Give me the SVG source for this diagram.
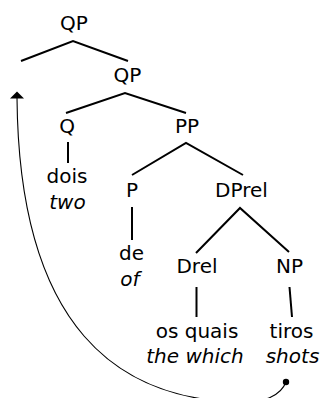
<svg xmlns="http://www.w3.org/2000/svg" width="322" height="398" viewBox="0 0 322 398">
<style>
text{font-family:"DejaVu Sans","Liberation Sans",sans-serif;font-size:20px;fill:#000;text-anchor:middle}
.it{font-style:italic}
.e{stroke:#000;stroke-width:2;fill:none;stroke-linecap:butt}
.mv{stroke:#000;stroke-width:1.1;fill:none}
</style>
<g id="connectors">
<path class="e" d="M21,61 L73,41 L128,61"/>
<path class="e" d="M66,113 L125,93 L186,113"/>
<path class="e" d="M68,142 L68,163"/>
<path class="e" d="M132,175 L186,143 L243,175"/>
<path class="e" d="M132,207 L132,240"/>
<path class="e" d="M196,253 L240,208 L289,252"/>
<path class="e" d="M196.5,287 L196.5,317"/>
<path class="e" d="M289.5,287 L292,317"/>
<path class="mv" d="M286,382 C281,395 265,403 240,402 C120,400 19,330 17,98"/>
<path d="M17,91.5 L10,98.5 L24,98.5 Z" fill="#000"/>
<circle cx="286" cy="382" r="3.2" fill="#000"/>
</g>
<g id="qp1"><text x="74" y="30">QP</text></g>
<g id="qp2"><text x="127.5" y="82">QP</text></g>
<g id="q"><text x="67" y="133">Q</text></g>
<g id="pp"><text x="187" y="133">PP</text></g>
<g id="dois"><text x="67" y="183">dois</text><text class="it" x="67.5" y="209">two</text></g>
<g id="p"><text x="132" y="197">P</text></g>
<g id="dprel"><text x="241.5" y="197">DPrel</text></g>
<g id="de"><text x="131.5" y="260">de</text><text class="it" x="130" y="286">of</text></g>
<g id="drel"><text x="197" y="273">Drel</text></g>
<g id="np"><text x="289.5" y="273">NP</text></g>
<g id="osquais"><text x="197" y="338">os quais</text><text class="it" x="195" y="363">the which</text></g>
<g id="tiros"><text x="291.5" y="338">tiros</text><text class="it" x="292.5" y="363">shots</text></g>
</svg>
